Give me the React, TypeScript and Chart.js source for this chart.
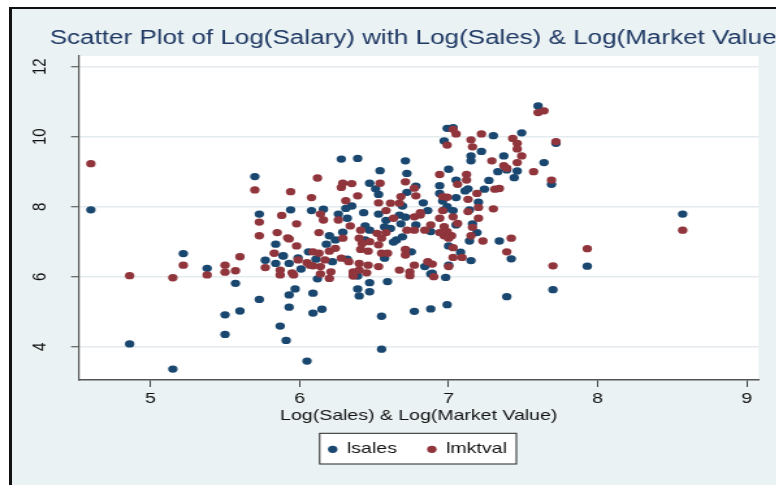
import { useEffect, useRef } from "react";
import { Chart, registerables } from "chart.js";

Chart.register(...registerables);

const TITLE = "Scatter Plot of Log(Salary) with Log(Sales) & Log(Market Value)";
const X_TITLE = "Log(Sales) & Log(Market Value)";
const SERIES_NAMES = ["lsales", "lmktval"];
const SERIES_COLORS = ["#1a476f", "#90353b"];
const X_TICKS = [5, 6, 7, 8, 9];
const Y_TICKS = [4, 6, 8, 10, 12];
const X_RANGE = [4.521, 9.078];
const Y_RANGE = [3.049, 12.306];

// [log(sales), log(salary)]
const LSALES: [number, number][] = [
  [4.60, 7.91], [5.22, 6.66], [4.86, 4.08], [5.15, 3.36], [5.38, 6.24], [5.57, 5.81], [5.50, 4.91], [5.60, 5.02], [5.50, 4.35], [5.73, 5.35],
  [5.70, 8.86], [5.73, 7.79], [5.77, 6.47], [5.84, 6.93], [5.84, 6.38], [5.94, 7.91], [5.89, 6.59], [6.01, 6.22], [5.99, 6.54], [6.06, 6.71],
  [6.11, 6.50], [6.12, 5.94], [5.97, 5.65], [5.93, 5.48], [5.93, 5.13], [5.87, 4.59], [5.91, 4.18], [6.09, 5.53], [6.09, 4.96], [6.15, 5.07],
  [6.05, 3.59], [6.08, 7.89], [6.16, 7.93], [6.20, 7.17], [6.18, 6.93], [6.22, 6.43], [6.24, 7.05], [6.26, 7.79], [6.28, 9.36], [6.32, 7.67],
  [6.31, 7.95], [6.35, 8.02], [6.29, 7.27], [6.32, 6.50], [6.39, 9.38], [6.43, 7.83], [6.44, 7.45], [6.44, 7.05], [6.47, 7.33], [6.39, 6.02],
  [6.47, 5.83], [6.39, 5.65], [6.40, 5.45], [6.47, 5.57], [6.55, 4.87], [6.55, 3.93], [6.47, 8.67], [6.54, 9.03], [6.51, 8.51], [6.53, 8.35],
  [6.53, 7.79], [6.58, 7.61], [6.61, 7.38], [6.57, 7.42], [6.57, 6.53], [6.59, 5.86], [6.71, 9.31], [6.72, 8.95], [6.78, 8.59], [6.72, 8.41],
  [6.83, 8.11], [6.67, 7.76], [6.71, 7.70], [6.86, 7.89], [6.68, 7.51], [6.78, 7.48], [6.65, 7.05], [6.69, 7.14], [6.75, 6.71], [6.84, 6.29],
  [6.77, 5.01], [6.88, 6.08], [6.88, 5.08], [7.60, 10.88], [6.99, 10.24], [7.03, 10.26], [6.97, 9.88], [7.30, 10.03], [7.22, 9.58], [7.49, 10.11],
  [7.72, 9.81], [7.46, 9.02], [7.44, 8.83], [7.39, 9.05], [7.37, 9.45], [7.64, 9.26], [7.69, 8.64], [7.33, 9.00], [7.15, 9.45], [7.15, 9.31],
  [7.27, 8.75], [7.24, 8.50], [7.20, 8.13], [7.13, 8.51], [7.11, 8.45], [7.05, 8.76], [7.05, 8.26], [7.00, 9.07], [6.94, 8.60], [6.94, 8.38],
  [6.96, 8.16], [7.14, 7.91], [7.16, 7.51], [7.19, 7.26], [7.14, 7.02], [7.15, 6.46], [7.08, 6.70], [7.00, 6.88], [7.00, 6.33], [6.98, 5.98],
  [7.03, 7.89], [6.97, 7.91], [6.99, 8.00], [7.05, 7.48], [6.88, 7.29], [6.89, 6.10], [6.99, 5.20], [7.39, 5.43], [7.34, 7.02], [7.42, 6.51],
  [7.70, 5.63], [7.93, 6.30], [8.57, 7.79], [5.93, 6.38], [6.63, 6.99], [6.69, 8.02], [5.89, 6.60],
];

// [log(market value), log(salary)]
const LMKTVAL: [number, number][] = [
  [4.60, 9.23], [5.22, 6.33], [4.86, 6.03], [5.15, 5.97], [5.38, 6.05], [5.50, 6.33], [5.50, 6.13], [5.57, 6.17], [5.60, 6.57], [5.70, 8.48],
  [5.73, 7.56], [5.73, 7.17], [5.77, 6.26], [5.83, 6.67], [5.85, 7.26], [5.88, 7.75], [5.94, 8.43], [5.92, 7.11], [5.93, 7.08], [5.98, 6.88],
  [5.98, 7.51], [5.87, 6.19], [5.87, 6.05], [5.95, 6.11], [5.99, 6.48], [6.05, 6.40], [6.09, 6.71], [6.13, 6.67], [6.07, 6.33], [6.09, 6.31],
  [6.14, 6.29], [6.17, 6.48], [6.14, 6.08], [6.21, 6.14], [6.20, 5.95], [6.08, 8.26], [6.12, 8.82], [6.14, 7.79], [6.16, 7.62], [6.13, 7.26],
  [6.20, 6.73], [6.24, 6.81], [6.26, 7.62], [6.28, 8.55], [6.29, 8.67], [6.31, 8.17], [6.34, 7.45], [6.29, 7.10], [6.28, 6.53], [6.33, 6.43],
  [6.36, 6.14], [6.36, 6.02], [6.35, 8.66], [6.39, 8.31], [6.41, 7.33], [6.40, 7.10], [6.42, 6.95], [6.47, 7.00], [6.41, 6.78], [6.46, 6.73],
  [6.40, 6.38], [6.46, 6.33], [6.40, 6.19], [6.36, 6.05], [6.45, 6.11], [6.54, 8.67], [6.53, 8.11], [6.58, 7.89], [6.63, 7.67], [6.58, 7.26],
  [6.52, 7.24], [6.55, 7.10], [6.53, 6.91], [6.55, 6.67], [6.59, 6.67], [6.53, 6.29], [6.61, 8.10], [6.67, 8.10], [6.68, 8.29], [6.71, 8.71],
  [6.77, 8.53], [6.78, 8.31], [6.77, 7.71], [6.81, 7.76], [6.72, 7.33], [6.77, 7.33], [6.84, 7.33], [6.71, 6.78], [6.71, 6.62], [6.77, 6.33],
  [6.86, 6.43], [6.67, 6.19], [6.74, 6.14], [6.74, 6.03], [7.60, 10.69], [7.64, 10.74], [7.03, 10.21], [7.05, 10.08], [6.99, 9.76], [7.22, 10.08],
  [7.15, 9.91], [7.16, 9.71], [7.43, 9.95], [7.46, 9.81], [7.46, 9.65], [7.72, 9.86], [7.49, 9.45], [7.46, 9.26], [7.37, 9.17], [7.39, 9.10],
  [7.57, 9.00], [7.69, 8.76], [7.29, 9.31], [7.31, 8.50], [7.34, 8.52], [7.19, 8.38], [7.30, 7.94], [7.12, 8.76], [7.12, 8.92], [7.06, 8.64],
  [6.94, 8.92], [6.96, 8.29], [6.99, 8.27], [7.13, 8.21], [7.20, 7.98], [7.13, 7.86], [7.20, 7.67], [7.16, 7.41], [7.15, 7.17], [7.23, 7.02],
  [7.09, 6.55], [7.03, 6.55], [7.03, 6.83], [7.00, 7.10], [7.02, 7.17], [6.97, 7.17], [6.99, 7.29], [6.94, 7.26], [7.00, 6.29], [7.03, 7.71],
  [6.96, 7.89], [7.06, 7.52], [6.97, 7.43], [6.88, 7.48], [6.89, 6.36], [6.90, 6.00], [6.81, 7.83], [7.42, 7.10], [7.39, 6.71], [7.70, 6.31],
  [7.93, 6.80], [8.57, 7.33], [5.96, 6.05], [6.94, 7.67],
];

// canvas is drawn narrow and stretched horizontally (the reference is a horizontally stretched Stata graph)
const SX = 1.3;
const CW = 642;
const CH = 485;
const FONT = "'Liberation Sans', Arial, Helvetica, sans-serif";
const BG = "rgb(234,242,243)";
const DOT_R = 3.65;

export default function App() {
  const ref = useRef<HTMLCanvasElement | null>(null);

  useEffect(() => {
    if (!ref.current) return;
    const bgPlugin = {
      id: "stataBg",
      beforeDraw(chart: any) {
        const { ctx, chartArea: a } = chart;
        ctx.save();
        ctx.fillStyle = "#ffffff";
        ctx.fillRect(a.left, a.top, a.right - a.left, a.bottom - a.top);
        const hb = chart.legend && chart.legend.legendHitBoxes;
        if (hb && hb.length) {
          const last = hb[hb.length - 1];
          const l = hb[0].left - 6.5;
          const r = last.left + last.width + 7.3;
          const t = hb[0].top - 8.5;
          const b = hb[0].top + 22.2;
          ctx.fillRect(l, t, r - l, b - t);
          ctx.strokeStyle = "#222";
          ctx.lineWidth = 1;
          ctx.strokeRect(l, t, r - l, b - t);
        }
        ctx.restore();
      },
    };

    const toPts = (arr: [number, number][]) => arr.map(([x, y]) => ({ x, y }));

    const chart = new Chart(ref.current, {
      type: "scatter",
      data: {
        datasets: [
          {
            label: SERIES_NAMES[0],
            data: toPts(LSALES),
            backgroundColor: SERIES_COLORS[0],
            borderColor: SERIES_COLORS[0],
            borderWidth: 0,
            pointRadius: DOT_R,
            pointHoverRadius: DOT_R,
            order: 2,
          },
          {
            label: SERIES_NAMES[1],
            data: toPts(LMKTVAL),
            backgroundColor: SERIES_COLORS[1],
            borderColor: SERIES_COLORS[1],
            borderWidth: 0,
            pointRadius: DOT_R,
            pointHoverRadius: DOT_R,
            order: 1,
          },
        ],
      },
      options: {
        responsive: false,
        maintainAspectRatio: false,
        devicePixelRatio: 1,
        animation: false,
        events: [],
        layout: { padding: { left: 0, right: 0, top: 0, bottom: 18.2 } },
        scales: {
          x: {
            type: "linear",
            position: "bottom",
            min: X_RANGE[0],
            max: X_RANGE[1],
            afterBuildTicks: (s: any) => {
              s.ticks = X_TICKS.map((v) => ({ value: v }));
            },
            afterFit: (s: any) => {
              s.height = 38.4;
            },
            ticks: {
              font: { family: FONT, size: 15 },
              color: "#111",
              padding: 3,
              maxRotation: 0,
              autoSkip: false,
            },
            grid: {
              drawOnChartArea: false,
              drawTicks: true,
              tickLength: 7,
              tickColor: "#444",
              tickWidth: 1,
            },
            border: { display: true, color: "#555", width: 1.4 },
            title: {
              display: true,
              text: X_TITLE,
              font: { family: FONT, size: 15 },
              color: "#111",
              padding: { top: 0, bottom: -6.1 },
            },
          },
          y: {
            type: "linear",
            position: "left",
            min: Y_RANGE[0],
            max: Y_RANGE[1],
            afterBuildTicks: (s: any) => {
              s.ticks = Y_TICKS.map((v) => ({ value: v }));
            },
            afterFit: (s: any) => {
              s.width = 60.8;
            },
            ticks: {
              font: { family: FONT, size: 15 },
              color: "#111",
              padding: 15.5,
              minRotation: 90,
              maxRotation: 90,
              crossAlign: "center",
              autoSkip: false,
            },
            grid: {
              color: "#e3ebef",
              lineWidth: 1.5,
              drawTicks: true,
              tickLength: 6.2,
              tickColor: "#444",
              tickWidth: 1,
            },
            border: { display: true, color: "#555", width: 1.2 },
          },
          pad: {
            type: "linear",
            position: "right",
            display: true,
            grid: { display: false, drawTicks: false },
            ticks: { display: false },
            border: { display: false },
            afterFit: (s: any) => {
              s.width = 58.9;
            },
          },
        },
        plugins: {
          title: {
            display: true,
            text: TITLE,
            align: "center",
            color: "#1f3864",
            font: { family: FONT, size: 20, weight: "normal", lineHeight: 1.2 },
            padding: { top: 26, bottom: 6 },
          },
          legend: {
            display: true,
            position: "bottom",
            align: "center",
            labels: {
              usePointStyle: true,
              pointStyle: "circle",
              boxWidth: 7,
              boxHeight: DOT_R * Math.SQRT2,
              padding: 23.4,
              font: { family: FONT, size: 15 },
              color: "#111",
              sort: (a: any, b: any) => a.datasetIndex - b.datasetIndex,
            },
          },
          tooltip: { enabled: false },
        },
      } as any,
      plugins: [bgPlugin],
    });

    return () => chart.destroy();
  }, []);

  return (
    <div
      style={{
        position: "fixed",
        left: 0,
        top: 0,
        width: 776,
        height: 485,
        overflow: "hidden",
        background: "#ffffff",
      }}
    >
      <div
        style={{
          position: "absolute",
          left: 9,
          top: 7,
          width: 900,
          height: 600,
          background: BG,
          borderLeft: "3px solid #111",
          borderTop: "2px solid #111",
        }}
      />
      <canvas
        ref={ref}
        width={CW}
        height={CH}
        style={{
          position: "absolute",
          left: 0,
          top: 0,
          width: `${CW * SX}px`,
          height: `${CH}px`,
        }}
      />
    </div>
  );
}
